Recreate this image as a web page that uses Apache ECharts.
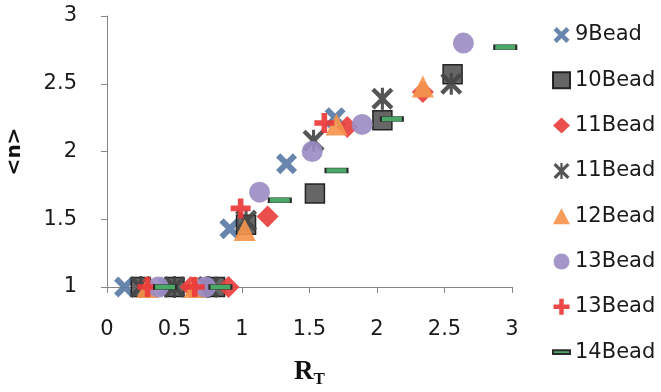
<!DOCTYPE html>
<html>
<head>
<meta charset="utf-8">
<script src="https://cdn.jsdelivr.net/npm/echarts@6/dist/echarts.min.js"></script>
<style>
  html, body { margin: 0; padding: 0; background: #fff; }
  #chart { width: 661px; height: 392px; }
</style>
</head>
<body>
<div id="chart"></div>
<script>
// series names (the "*" is only there so the legend keeps duplicate labels apart)
const seriesNames = ['9Bead', '10Bead', '11Bead', '11Bead*', '12Bead', '13Bead', '13Bead*', '14Bead'];

// [R_T, <n>]
const bead9   = [[0.13, 1], [0.45, 1], [0.75, 1], [0.91, 1.43], [1.33, 1.91], [1.69, 2.25]];
const bead10  = [[0.25, 1], [0.5, 1], [0.8, 1], [1.03, 1.46], [1.54, 1.69], [2.04, 2.23], [2.56, 2.57]];
const bead11a = [[0.3, 1], [0.62, 1], [0.9, 1], [1.19, 1.52], [1.78, 2.18], [2.34, 2.44]];
const bead11b = [[0.25, 1], [0.5, 1], [0.75, 1], [1.03, 1.49], [1.53, 2.08], [2.04, 2.39], [2.55, 2.5]];
const bead12  = [[0.3, 1], [0.65, 1], [1.02, 1.42], [1.7, 2.2], [2.34, 2.48]];
const bead13a = [[0.38, 1], [0.73, 1], [1.13, 1.7], [1.52, 2.0], [1.89, 2.2], [2.64, 2.8]];
const bead13b = [[0.3, 1], [0.65, 1], [0.99, 1.58], [1.61, 2.21]];
const bead14  = [[0.43, 1], [0.84, 1], [1.28, 1.64], [1.7, 1.86], [2.11, 2.24], [2.95, 2.77]];

const xTicks = { min: 0, max: 3, step: 0.5 };
const yTicks = { min: 1, max: 3, step: 0.5 };

const crossPath = 'path://M20,0 L50,30 L80,0 L100,20 L70,50 L100,80 L80,100 L50,70 L20,100 L0,80 L30,50 L0,20 Z';
const starPath = 'path://M14,0 L50,36 L86,0 L100,14 L64,50 L100,86 L86,100 L50,64 L14,100 L0,86 L36,50 L0,14 Z M43,0 L57,0 L57,100 L43,100 Z';
const plusPath = 'path://M36,0 L64,0 L64,36 L100,36 L100,64 L64,64 L64,100 L36,100 L36,64 L0,64 L0,36 L36,36 Z';
const dashPath = 'path://M0,0 L22,0 L22,5 L0,5 Z';

const chart = echarts.init(document.getElementById('chart'));

function sc(name, data, symbol, size, color, extra) {
  return Object.assign({
    name: name,
    type: 'scatter',
    data: data,
    symbol: symbol,
    symbolSize: size,
    itemStyle: { color: color, opacity: 0.92 },
    emphasis: { disabled: true }
  }, extra || {});
}

const option = {
  animation: false,
  grid: { left: 107, right: 149, top: 16, bottom: 105, outerBoundsMode: 'none' },
  legend: {
    orient: 'vertical',
    left: 547,
    top: 18,
    itemWidth: 17,
    itemHeight: 16,
    itemGap: 21.3,
    data: seriesNames,
    formatter: function (n) { return n.replace('*', ''); },
    textStyle: { fontFamily: 'DejaVu Sans', fontSize: 21, color: '#1a1a1a', lineHeight: 24 }
  },
  xAxis: {
    type: 'value',
    min: xTicks.min, max: xTicks.max, interval: xTicks.step,
    name: '{r|R}{t|T}',
    nameLocation: 'middle',
    nameGap: 70,
    nameTextStyle: {
      rich: {
        r: { fontFamily: 'Liberation Serif', fontWeight: 'bold', fontSize: 27, color: '#111' },
        t: { fontFamily: 'Liberation Serif', fontWeight: 'bold', fontSize: 17, color: '#111', padding: [14, 0, 0, 0] }
      }
    },
    splitLine: { show: false },
    axisLine: { lineStyle: { color: '#868686', width: 1 } },
    axisTick: { length: 6, lineStyle: { color: '#868686' } },
    axisLabel: { margin: 32, fontFamily: 'DejaVu Sans', fontSize: 21, color: '#1a1a1a' }
  },
  yAxis: {
    type: 'value',
    min: yTicks.min, max: yTicks.max, interval: yTicks.step,
    name: '<n>',
    nameLocation: 'middle',
    nameGap: 82,
    nameMoveOverlap: false,
    nameTextStyle: { fontFamily: 'DejaVu Sans', fontWeight: 'bold', fontSize: 20, color: '#111' },
    splitLine: { show: false },
    axisLine: { show: true, lineStyle: { color: '#868686', width: 1 } },
    axisTick: { show: true, length: 6, lineStyle: { color: '#868686' } },
    axisLabel: { margin: 30, fontFamily: 'DejaVu Sans', fontSize: 21, color: '#1a1a1a' }
  },
  series: [
    sc(seriesNames[0], bead9, crossPath, 21, '#5b7ca6'),
    sc(seriesNames[1], bead10, 'rect', 19, '#5e5e5e', { itemStyle: { color: '#5e5e5e', borderColor: '#1c1c1c', borderWidth: 1.5, opacity: 0.95 } }),
    sc(seriesNames[2], bead11a, 'diamond', 22, '#e8403e'),
    sc(seriesNames[3], bead11b, starPath, 22, '#454545'),
    sc(seriesNames[4], bead12, 'triangle', 22, '#f5954d'),
    sc(seriesNames[5], bead13a, 'circle', 21, '#9d8dc4'),
    sc(seriesNames[6], bead13b, plusPath, 20, '#ec3a3a'),
    sc(seriesNames[7], bead14, dashPath, [22, 5], '#4aa866', { itemStyle: { color: '#4aa866', borderColor: '#2a2a2a', borderWidth: 1, opacity: 1 } })
  ]
};

chart.setOption(option);
</script>
</body>
</html>
